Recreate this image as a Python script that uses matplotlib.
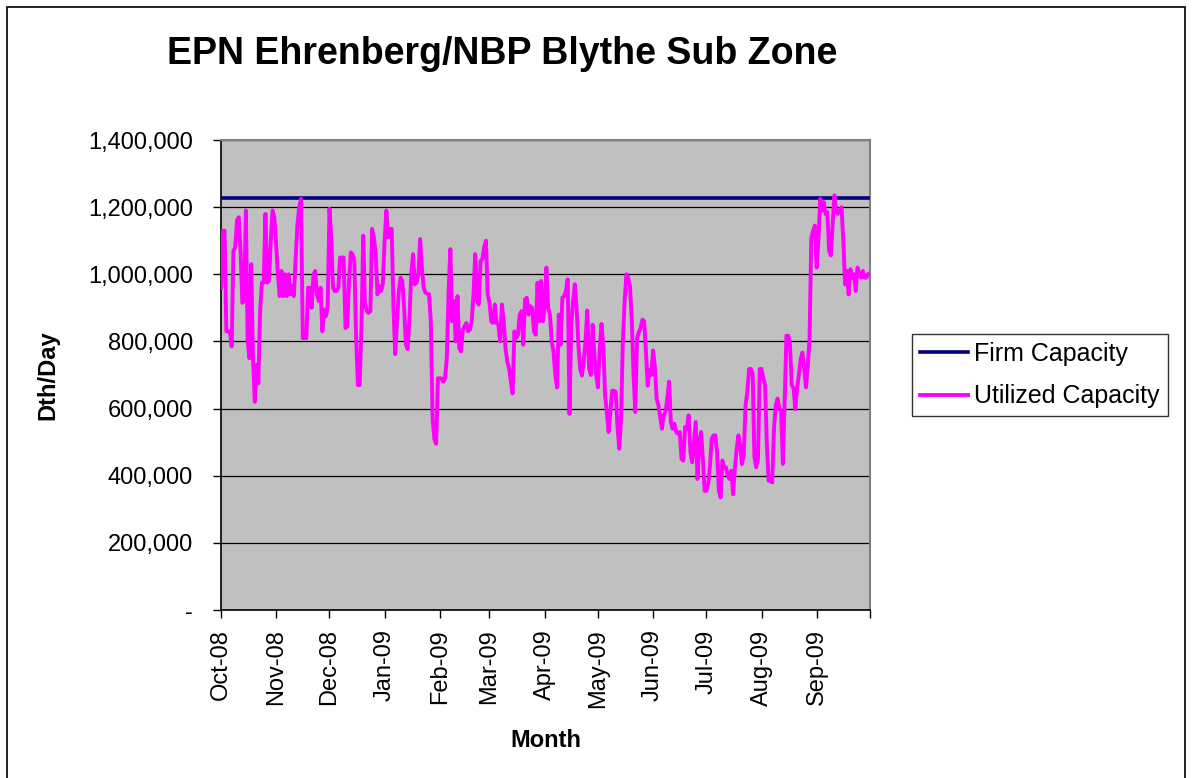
import matplotlib
matplotlib.use('Agg')
import matplotlib.pyplot as plt
import matplotlib.dates as mdates
from matplotlib.ticker import FuncFormatter, MultipleLocator
from matplotlib.patches import Rectangle
import pandas as pd

plt.rcParams['font.family'] = ['Liberation Sans', 'DejaVu Sans']

# daily utilized capacity, thousands of Dth/day, one list per month
oct08 = [960, 1130, 1130, 830, 830, 830, 785, 1070, 1080, 1160, 1170, 1070, 915, 920, 1190, 800,
         750, 1030, 750, 620, 730, 675, 890, 975, 975, 1180, 975, 980, 1100, 1190, 1170]
nov08 = [1090, 1000, 935, 1010, 935, 1000, 935, 1000, 940, 965, 935, 1050, 1150, 1200, 1225,
         810, 810, 810, 960, 960, 900, 1000, 1010, 940, 920, 960, 830, 895, 875, 905]
dec08 = [1195, 1110, 960, 950, 950, 960, 1050, 1050, 1050, 840, 845, 975, 1065, 1060, 1040, 810,
         670, 670, 840, 1115, 910, 890, 885, 890, 1135, 1110, 1060, 940, 965, 950, 970]
jan09 = [1100, 1190, 1110, 1135, 1135, 900, 762, 860, 950, 990, 980, 900, 790, 777, 870, 1000,
         1060, 970, 975, 1000, 1105, 1020, 960, 945, 942, 940, 860, 570, 510, 495, 690]
feb09 = [690, 690, 680, 690, 750, 950, 1075, 860, 920, 800, 935, 780, 770, 835, 845, 855,
         830, 835, 860, 940, 1060, 920, 910, 1040, 1045, 1080, 1100, 940]
mar09 = [915, 860, 855, 910, 855, 850, 800, 910, 860, 780, 740, 720, 680, 645, 830, 810,
         820, 880, 890, 790, 925, 930, 880, 905, 900, 830, 820, 975, 860, 980, 860]
apr09 = [900, 1020, 900, 880, 800, 770, 700, 663, 880, 790, 930, 935, 950, 985, 584, 850,
         920, 970, 900, 790, 718, 698, 740, 800, 892, 720, 700, 850, 760, 700]
may09 = [663, 780, 852, 790, 640, 590, 530, 590, 653, 653, 650, 545, 480, 570, 800, 920,
         1000, 990, 965, 870, 700, 590, 810, 828, 840, 865, 860, 770, 668, 715, 700]
jun09 = [773, 725, 630, 610, 575, 540, 580, 590, 630, 680, 560, 540, 555, 530, 525, 530,
         450, 445, 545, 540, 580, 470, 440, 500, 560, 390, 500, 530, 450, 355]
jul09 = [355, 375, 430, 510, 520, 520, 470, 355, 335, 445, 425, 425, 400, 390, 415, 345,
         420, 480, 520, 490, 435, 460, 610, 650, 718, 718, 705, 455, 425, 450, 718]
aug09 = [718, 690, 670, 490, 385, 385, 380, 540, 610, 630, 600, 590, 435, 620, 817, 817,
         790, 670, 660, 598, 660, 700, 747, 767, 720, 663, 725, 810, 1110, 1130, 1145]
sep09 = [1020, 1100, 1225, 1190, 1215, 1180, 1185, 1070, 1056, 1150, 1235, 1190, 1180, 1190, 1200,
         1100, 970, 1010, 940, 1015, 990, 1000, 950, 1020, 1000, 990, 1010, 990, 990, 1000]

firm_capacity = 1228000
start_date = '2008-10-01'
end_date = '2009-10-01'

utilized_k = oct08 + nov08 + dec08 + jan09 + feb09 + mar09 + apr09 + may09 + jun09 + jul09 + aug09 + sep09
utilized = [v * 1000 for v in utilized_k]
dates = pd.date_range(start_date, periods=len(utilized), freq='D')
firm = [firm_capacity] * len(dates)

W, H = 1192, 778
fig = plt.figure(figsize=(W / 100, H / 100), dpi=100)
# outer chart frame
fig.patches.append(Rectangle((7 / W, -0.01), (1185 - 7) / W, 1.01 - 7 / H, transform=fig.transFigure,
                             fill=False, edgecolor='black', linewidth=1.2))

ax = fig.add_axes([221 / W, 1 - 610 / H, (870 - 221) / W, (610 - 140) / H])
ax.set_facecolor('#C0C0C0')

ax.plot(dates, firm, color='#000080', linewidth=2.6, label='Firm Capacity', zorder=3)
ax.plot(dates, utilized, color='#FF00FF', linewidth=2.8, label='Utilized Capacity', zorder=4)

ax.set_ylim(0, 1400000)
ax.yaxis.set_major_locator(MultipleLocator(200000))
ax.yaxis.set_major_formatter(FuncFormatter(lambda v, p: '-' if v == 0 else f'{int(v):,}'))
ax.grid(axis='y', color='black', linewidth=0.9)
ax.set_axisbelow(True)

ax.set_xlim(pd.Timestamp(start_date), pd.Timestamp(end_date))
ax.xaxis.set_major_locator(mdates.MonthLocator())
ax.xaxis.set_major_formatter(FuncFormatter(
    lambda v, p: '' if mdates.num2date(v).replace(tzinfo=None) >= pd.Timestamp(end_date)
    else mdates.num2date(v).strftime('%b-%y')))

ax.tick_params(axis='y', labelsize=17, length=6, width=1, pad=14, color='black')
ax.tick_params(axis='x', labelsize=17, length=6, width=1, pad=8, labelrotation=90, color='black')

for side in ['left', 'bottom']:
    ax.spines[side].set_color('black')
    ax.spines[side].set_linewidth(1.2)
for side in ['top', 'right']:
    ax.spines[side].set_color('#808080')
    ax.spines[side].set_linewidth(1.5)

ax.set_xlabel('Month', fontsize=17, fontweight='bold', labelpad=15)
fig.text(48 / W, 1 - 375 / H, 'Dth/Day', rotation=90, ha='center', va='center', fontsize=17, fontweight='bold')

fig.text(502 / W, 1 - 54 / H, 'EPN Ehrenberg/NBP Blythe Sub Zone', ha='center', va='center',
         fontsize=27, fontweight='bold')

leg = fig.legend(loc='center left', bbox_to_anchor=(912 / W, 1 - 375 / H), fontsize=18,
                 frameon=True, fancybox=False, edgecolor='black', handlelength=1.95,
                 handletextpad=0.25, borderpad=0.3, labelspacing=0.75, borderaxespad=0)
leg.get_frame().set_linewidth(1.0)

fig.savefig('out.png', dpi=100)
